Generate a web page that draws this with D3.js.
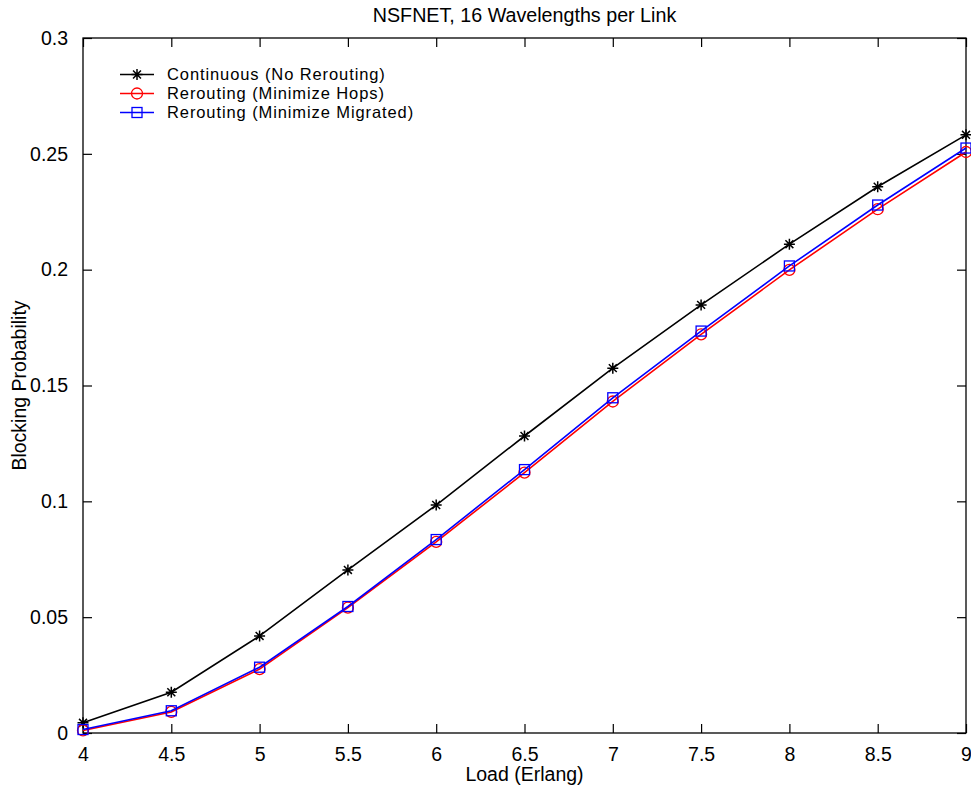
<!DOCTYPE html>
<html><head><meta charset="utf-8">
<script src="https://cdn.jsdelivr.net/npm/d3@7"></script>
<style>body{margin:0;background:#fff}svg{display:block;font-family:"Liberation Sans",Arial,sans-serif}</style>
</head><body><svg id="c" width="971" height="787"></svg>
<script>
const loads = [4, 4.5, 5, 5.5, 6, 6.5, 7, 7.5, 8, 8.5, 9];
const continuous = [0.0044, 0.0176, 0.0419, 0.0704, 0.0984, 0.1282, 0.1575, 0.1848, 0.2110, 0.2358, 0.2582];
const minHops = [0.0011, 0.0091, 0.0276, 0.0541, 0.0825, 0.1124, 0.1431, 0.1721, 0.1999, 0.2261, 0.2508];
const minMigrated = [0.0015, 0.0096, 0.0284, 0.0546, 0.0835, 0.1137, 0.1447, 0.1735, 0.2016, 0.2279, 0.2525];
const xTicks = [4, 4.5, 5, 5.5, 6, 6.5, 7, 7.5, 8, 8.5, 9];
const yTicks = [0, 0.05, 0.1, 0.15, 0.2, 0.25, 0.3];
const seriesNames = ["Continuous (No Rerouting)", "Rerouting (Minimize Hops)", "Rerouting (Minimize Migrated)"];
const seriesColors = ["#000000", "#ff0000", "#0000ff"];
const seriesMarkers = ["star", "circle", "square"];
const seriesData = [continuous, minHops, minMigrated];

const L = 83, R = 966, T = 38, B = 733;
const svg = d3.select("#c");
const x = d3.scaleLinear().domain([4, 9]).range([L, R]);
const y = d3.scaleLinear().domain([0, 0.3]).range([B, T]);
const fmt = d => String(+d.toFixed(2));
const FS = 19.5;

const tl = 9;
svg.append("g").attr("transform", `translate(0,${B})`)
  .call(d3.axisBottom(x).tickValues(xTicks).tickFormat(fmt).tickSizeInner(-tl).tickSizeOuter(0).tickPadding(14))
  .call(g => { g.select(".domain").remove(); g.selectAll("text").attr("font-size", FS).attr("font-family", "Liberation Sans, Arial").attr("fill", "#000"); });
svg.append("g").attr("transform", `translate(0,${T})`)
  .call(d3.axisTop(x).tickValues(xTicks).tickFormat("").tickSizeInner(-tl).tickSizeOuter(0))
  .call(g => g.select(".domain").remove());
svg.append("g").attr("transform", `translate(${L},0)`)
  .call(d3.axisLeft(y).tickValues(yTicks).tickFormat(fmt).tickSizeInner(-tl).tickSizeOuter(0).tickPadding(15))
  .call(g => { g.select(".domain").remove(); g.selectAll("text").attr("font-size", FS).attr("font-family", "Liberation Sans, Arial").attr("fill", "#000"); });
svg.append("g").attr("transform", `translate(${R},0)`)
  .call(d3.axisRight(y).tickValues(yTicks).tickFormat("").tickSizeInner(-tl).tickSizeOuter(0))
  .call(g => g.select(".domain").remove());
svg.selectAll(".tick line").attr("stroke", "#000").attr("stroke-width", 1.2);

svg.append("rect").attr("x", L).attr("y", T).attr("width", R - L).attr("height", B - T)
  .attr("fill", "none").attr("stroke", "#000").attr("stroke-width", 1.3);

function drawMarker(g, type, cx, cy, color) {
  if (type === "star") {
    const s = 5.5, d = s * 0.72;
    g.append("path").attr("d", `M${cx - s},${cy}H${cx + s}M${cx},${cy - s}V${cy + s}M${cx - d},${cy - d}L${cx + d},${cy + d}M${cx - d},${cy + d}L${cx + d},${cy - d}`)
      .attr("stroke", color).attr("stroke-width", 1.5).attr("fill", "none");
  } else if (type === "circle") {
    g.append("circle").attr("cx", cx).attr("cy", cy).attr("r", 5.5).attr("stroke", color).attr("stroke-width", 1.3).attr("fill", "none");
  } else {
    g.append("rect").attr("x", cx - 5).attr("y", cy - 5).attr("width", 10).attr("height", 10).attr("stroke", color).attr("stroke-width", 1.3).attr("fill", "none");
  }
}

const line = d3.line().x((d, i) => x(loads[i])).y(d => y(d));
seriesData.forEach((vals, si) => {
  const g = svg.append("g");
  g.append("path").attr("d", line(vals)).attr("fill", "none").attr("stroke", seriesColors[si]).attr("stroke-width", 1.6);
  vals.forEach((v, i) => drawMarker(g, seriesMarkers[si], x(loads[i]), y(v), seriesColors[si]));
});

const legY = [74.5, 93.5, 112.5];
seriesNames.forEach((name, i) => {
  const g = svg.append("g");
  g.append("line").attr("x1", 120).attr("x2", 154).attr("y1", legY[i]).attr("y2", legY[i]).attr("stroke", seriesColors[i]).attr("stroke-width", 1.5);
  drawMarker(g, seriesMarkers[i], 137, legY[i], seriesColors[i]);
  g.append("text").attr("x", 167).attr("y", legY[i]).attr("dy", "0.36em").attr("font-size", 16.5).attr("letter-spacing", 0.9).text(name);
});

svg.append("text").attr("x", (L + R) / 2).attr("y", 22).attr("text-anchor", "middle").attr("font-size", 19.7).text("NSFNET, 16 Wavelengths per Link");
svg.append("text").attr("x", (L + R) / 2).attr("y", 781).attr("text-anchor", "middle").attr("font-size", 19.5).text("Load (Erlang)");
svg.append("text").attr("transform", `translate(26,${(T + B) / 2}) rotate(-90)`).attr("text-anchor", "middle").attr("font-size", 19.5).text("Blocking Probability");
</script></body></html>
